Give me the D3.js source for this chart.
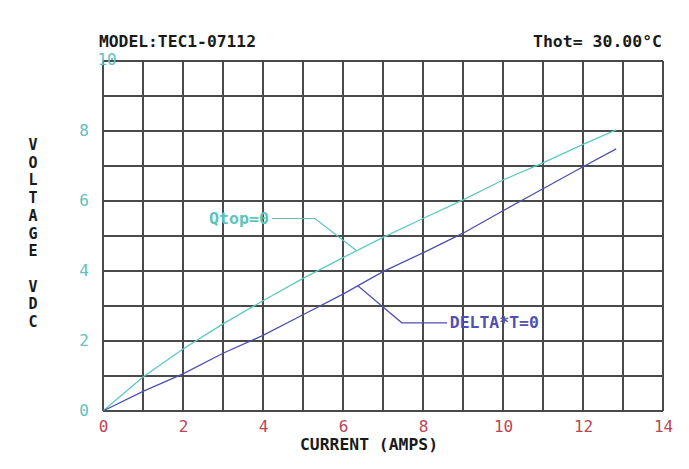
<!DOCTYPE html>
<html>
<head>
<meta charset="utf-8">
<script src="https://cdn.jsdelivr.net/npm/d3@7"></script>
<style>
  body { margin: 0; background: #fff; }
  text { font-family: "DejaVu Sans Mono", "Liberation Mono", monospace; }
</style>
</head>
<body>
<div id="chart"></div>
<script>
// readings (current in amps, voltage in VDC)
var current = [0, 1, 2, 3, 4, 5, 6, 7, 8, 9, 10, 11, 12, 12.83];
var qtopVolts = [0, 0.97, 1.77, 2.49, 3.15, 3.79, 4.38, 4.96, 5.5, 6.03, 6.6, 7.09, 7.62, 8.03];
var deltaVolts = [0, 0.56, 1.06, 1.65, 2.16, 2.75, 3.34, 3.98, 4.52, 5.08, 5.72, 6.35, 6.98, 7.49];
var xTicks = [0, 2, 4, 6, 8, 10, 12, 14];
var yTicks = [0, 2, 4, 6, 8, 10];
var yLetters = ["V", "O", "L", "T", "A", "G", "E", "", "V", "D", "C"];

var width = 689,
  height = 469;

var x = d3.scaleLinear().domain([0, 14]).range([103, 663]);
var y = d3.scaleLinear().domain([0, 10]).range([411, 61]);

var svg = d3.select("#chart").append("svg")
  .attr("width", width)
  .attr("height", height);

// grid, one line per unit
var grid = svg.append("g")
  .attr("stroke", "#4a4a4a")
  .attr("stroke-width", 2)
  .attr("shape-rendering", "crispEdges");

grid.selectAll(".vx")
  .data(d3.range(0, 15))
  .enter().append("line")
    .attr("x1", function(d) { return x(d); })
    .attr("x2", function(d) { return x(d); })
    .attr("y1", y(0))
    .attr("y2", y(10));

grid.selectAll(".hy")
  .data(d3.range(0, 11))
  .enter().append("line")
    .attr("x1", x(0))
    .attr("x2", x(14))
    .attr("y1", function(d) { return y(d); })
    .attr("y2", function(d) { return y(d); });

// axes (labels only)
var yAxis = svg.append("g")
  .attr("transform", "translate(" + x(0) + ",0)")
  .call(d3.axisLeft(y).tickValues(yTicks).tickSize(0).tickPadding(14).tickFormat(d3.format("d")));
yAxis.select(".domain").remove();
yAxis.selectAll("text")
  .attr("font-family", "DejaVu Sans Mono")
  .attr("font-size", 16)
  .attr("fill", "#62c0bd")
  .attr("dy", "0.28em");
// the top label sits inside the corner on the original
yAxis.selectAll(".tick").filter(function(d) { return d === 10; }).select("text")
  .attr("text-anchor", "middle")
  .attr("x", 4)
  .attr("dy", "0.2em");

var xAxis = svg.append("g")
  .attr("transform", "translate(0," + y(0) + ")")
  .call(d3.axisBottom(x).tickValues(xTicks).tickSize(0).tickPadding(10).tickFormat(d3.format("d")));
xAxis.select(".domain").remove();
xAxis.selectAll("text")
  .attr("font-family", "DejaVu Sans Mono")
  .attr("font-size", 16)
  .attr("fill", "#bb4455");

// series
var line = d3.line()
  .x(function(d) { return x(d[0]); })
  .y(function(d) { return y(d[1]); });

var qtop = d3.zip(current, qtopVolts);
var delta = d3.zip(current, deltaVolts);

svg.append("path")
  .datum(qtop)
  .attr("fill", "none")
  .attr("stroke", "#5ccabf")
  .attr("stroke-width", 1.3)
  .attr("d", line);

svg.append("path")
  .datum(delta)
  .attr("fill", "none")
  .attr("stroke", "#4f4fae")
  .attr("stroke-width", 1.3)
  .attr("d", line);

// curve labels with leader lines
function valueAt(xs, ys, v) {
  return d3.scaleLinear().domain(xs).range(ys)(v);
}

var notes = [
  { text: "Qtop=0", color: "#5cc4bd", at: 6.34, ys: qtopVolts, elbow: [5.3, 5.5], end: [4.22, 5.5],
    tx: 4.15, anchor: "end", len: 60 },
  { text: "DELTA*T=0", color: "#5050b0", at: 6.37, ys: deltaVolts, elbow: [7.47, 2.52], end: [8.6, 2.52],
    tx: 8.67, anchor: "start", len: 89 }
];

notes.forEach(function(n) {
  var pts = [[n.at, valueAt(current, n.ys, n.at)], n.elbow, n.end];
  svg.append("path")
    .datum(pts)
    .attr("fill", "none")
    .attr("stroke", n.color)
    .attr("stroke-width", 1.2)
    .attr("d", line);
  svg.append("text")
    .attr("x", x(n.tx))
    .attr("y", y(n.end[1]) + 5)
    .attr("text-anchor", n.anchor)
    .attr("font-size", 15)
    .attr("font-weight", "bold")
    .attr("fill", n.color)
    .attr("textLength", n.len)
    .attr("lengthAdjust", "spacingAndGlyphs")
    .text(n.text);
});

// titles
svg.append("text")
  .attr("x", 99)
  .attr("y", 47)
  .attr("font-size", 15)
  .attr("font-weight", "bold")
  .attr("fill", "#1a1a1a")
  .attr("textLength", 157)
  .attr("lengthAdjust", "spacingAndGlyphs")
  .text("MODEL:TEC1-07112");

svg.append("text")
  .attr("x", 533)
  .attr("y", 47)
  .attr("font-size", 15)
  .attr("font-weight", "bold")
  .attr("fill", "#1a1a1a")
  .attr("textLength", 129)
  .attr("lengthAdjust", "spacingAndGlyphs")
  .text("Thot= 30.00°C");

svg.append("text")
  .attr("x", 300)
  .attr("y", 450)
  .attr("font-size", 15)
  .attr("font-weight", "bold")
  .attr("fill", "#1a1a1a")
  .attr("textLength", 138)
  .attr("lengthAdjust", "spacingAndGlyphs")
  .text("CURRENT (AMPS)");

svg.append("g")
  .selectAll("text")
  .data(yLetters)
  .enter().append("text")
    .attr("x", 33)
    .attr("y", function(d, i) { return 150 + i * 17.7; })
    .attr("text-anchor", "middle")
    .attr("font-size", 15)
    .attr("font-weight", "bold")
    .attr("fill", "#1a1a1a")
    .text(function(d) { return d; });
</script>
</body>
</html>
